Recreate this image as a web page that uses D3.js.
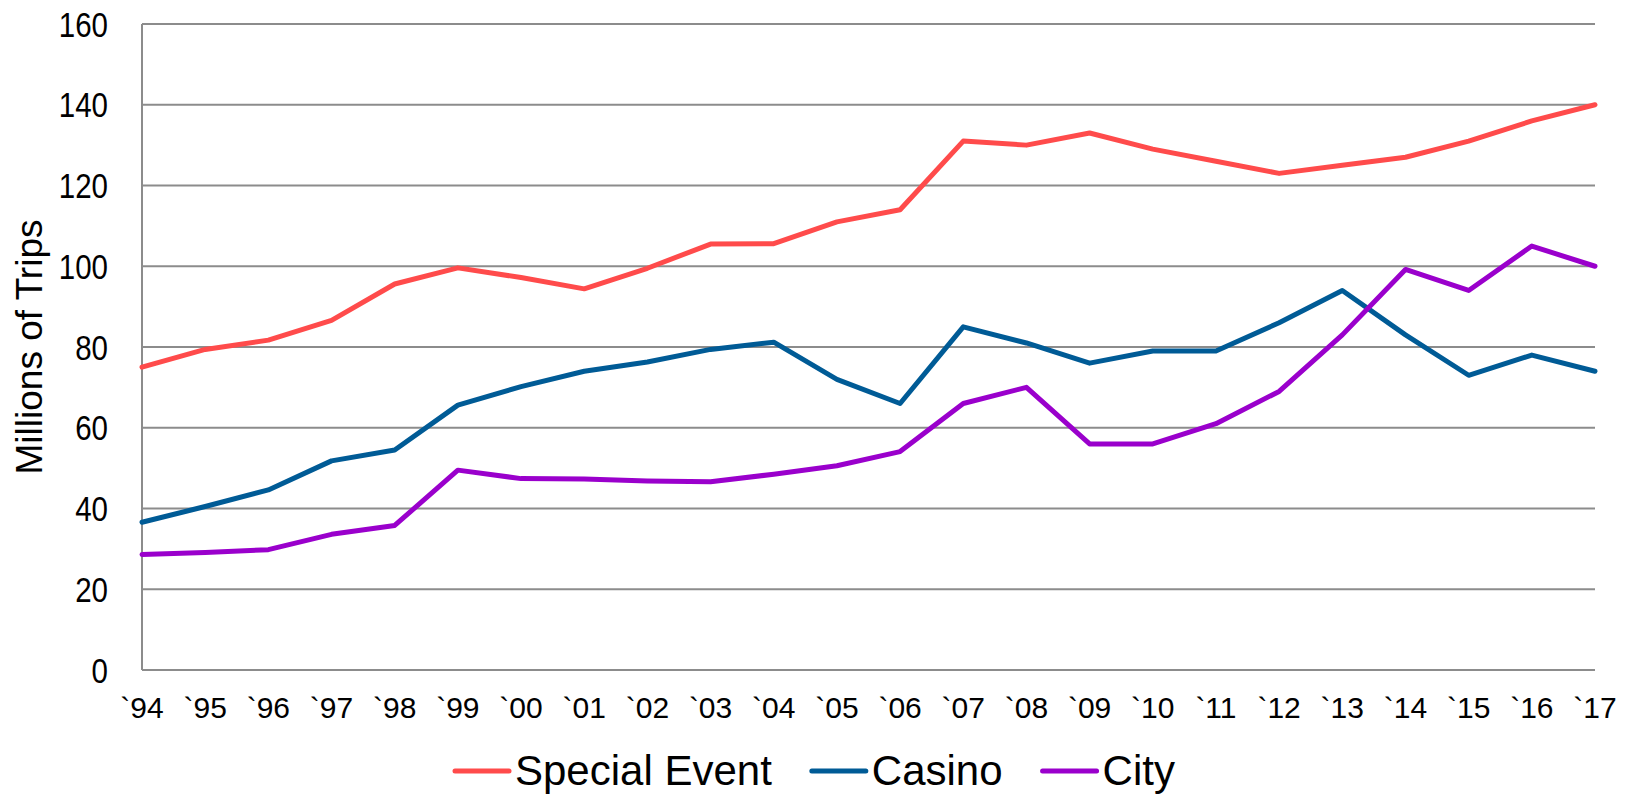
<!DOCTYPE html>
<html>
<head>
<meta charset="utf-8">
<script src="https://cdn.jsdelivr.net/npm/d3@7"></script>
<style>
  body { margin: 0; background: #fff; }
  text { font-family: 'Liberation Sans', Arial, sans-serif; fill: #000; }
</style>
</head>
<body>
<div id="line-chart"></div>
<script>
// data
const years = ['`94', '`95', '`96', '`97', '`98', '`99', '`00', '`01', '`02', '`03', '`04', '`05',
  '`06', '`07', '`08', '`09', '`10', '`11', '`12', '`13', '`14', '`15', '`16', '`17'];
const specialEvent = [75, 79.4, 81.7, 86.6, 95.6, 99.6, 97.2, 94.4, 99.5, 105.5, 105.6, 111,
  114, 131, 130, 133, 129, 126, 123, 125, 127, 131, 136, 140];
const casino = [36.6, 40.5, 44.6, 51.8, 54.5, 65.6, 70.2, 74, 76.3, 79.4, 81.2, 72,
  66, 85, 81, 76, 79, 79, 86, 94, 83, 73, 78, 74];
const city = [28.6, 29.1, 29.8, 33.6, 35.8, 49.5, 47.4, 47.3, 46.8, 46.6, 48.5, 50.6,
  54.1, 66, 70, 56, 56, 61, 69, 83, 99.2, 94, 105, 100];
const seriesNames = ['Special Event', 'Casino', 'City'];
const seriesColors = ['#ff4b4b', '#005b96', '#9a00cc'];
const yTicks = [0, 20, 40, 60, 80, 100, 120, 140, 160];

const drawLineChart = (() => {
  const margin = {
    top: 24, right: 36, bottom: 126, left: 142,
  };
  const width = 1631 - margin.left - margin.right;
  const height = 796 - margin.top - margin.bottom;

  const x = d3.scalePoint().domain(years).range([0, width]);
  const y = d3.scaleLinear().domain([0, 160]).range([height, 0]);

  const svg = d3.select('#line-chart').append('svg')
    .attr('width', width + margin.left + margin.right)
    .attr('height', height + margin.top + margin.bottom)
    .append('g')
    .attr('transform', `translate(${margin.left},${margin.top})`);

  return () => {
    // gridlines
    svg.append('g')
      .selectAll('line')
      .data(yTicks)
      .enter().append('line')
      .attr('x1', 0)
      .attr('x2', width)
      .attr('y1', d => y(d))
      .attr('y2', d => y(d))
      .style('stroke', '#8c8c8c')
      .style('stroke-width', 2);

    svg.append('line')
      .attr('x1', 0)
      .attr('x2', 0)
      .attr('y1', 0)
      .attr('y2', height)
      .style('stroke', '#8c8c8c')
      .style('stroke-width', 2);

    // y tick labels (narrow face)
    svg.append('g')
      .selectAll('text')
      .data(yTicks)
      .enter().append('text')
      .attr('transform', d => `translate(-34,${y(d)}) scale(0.82,1)`)
      .attr('dy', '.35em')
      .style('text-anchor', 'end')
      .style('font-size', '36px')
      .text(d => d);

    // x tick labels
    svg.append('g')
      .selectAll('text')
      .data(years)
      .enter().append('text')
      .attr('x', d => x(d))
      .attr('y', height + 48)
      .style('text-anchor', 'middle')
      .style('font-size', '30px')
      .text(d => d);

    svg.append('text')
      .attr('transform', `translate(${29 - margin.left},${height / 2}) rotate(-90)`)
      .attr('dy', '.35em')
      .style('text-anchor', 'middle')
      .style('font-size', '37px')
      .text('Millions of Trips');

    const line = d3.line()
      .x((d, i) => x(years[i]))
      .y(d => y(d));

    [specialEvent, casino, city].forEach((values, i) => {
      svg.append('path')
        .datum(values)
        .attr('d', line)
        .style('fill', 'none')
        .style('stroke', seriesColors[i])
        .style('stroke-width', 5)
        .style('stroke-linejoin', 'round')
        .style('stroke-linecap', 'round');
    });

    // legend
    const legend = svg.append('g')
      .attr('transform', `translate(${455 - margin.left},${771 - margin.top})`);
    let offset = 0;
    seriesNames.forEach((name, i) => {
      const item = legend.append('g').attr('transform', `translate(${offset},0)`);
      item.append('line')
        .attr('x1', 0)
        .attr('x2', 54)
        .style('stroke', seriesColors[i])
        .style('stroke-width', 5)
        .style('stroke-linecap', 'round');
      const label = item.append('text')
        .attr('x', 60)
        .attr('y', 14)
        .style('font-size', '42px')
        .text(name);
      offset += 60 + label.node().getComputedTextLength() + 40;
    });
  };
})();

drawLineChart();
</script>
</body>
</html>
